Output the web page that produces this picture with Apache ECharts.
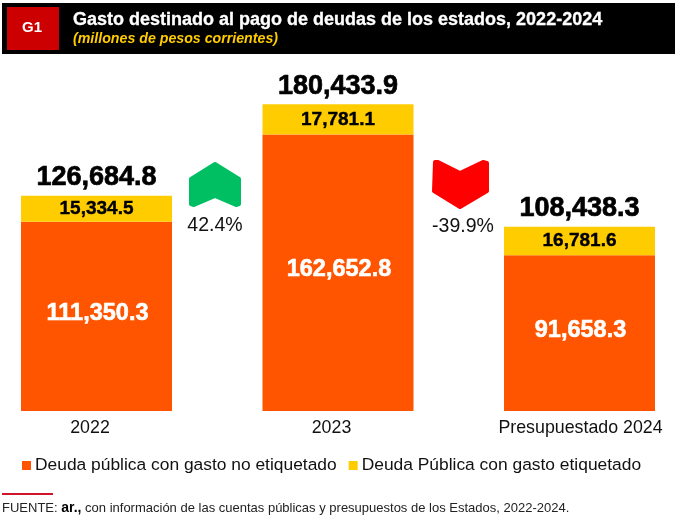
<!DOCTYPE html>
<html><head><meta charset="utf-8">
<style>html,body{margin:0;padding:0;background:#fff}#c{width:675px;height:519px}</style>
<script src="https://cdn.jsdelivr.net/npm/echarts@6/dist/echarts.min.js"></script></head>
<body><div id="c"></div>
<script>
const categories = ['2022', '2023', 'Presupuestado 2024'];
const noEtiquetado = [111350.3, 162652.8, 91658.3];
const etiquetado = [15334.5, 17781.1, 16781.6];
const totals = [126684.8, 180433.9, 108438.3];
const seriesNames = ['Deuda pública con gasto no etiquetado', 'Deuda Pública con gasto etiquetado'];
const titleText = 'Gasto destinado al pago de deudas de los estados, 2022-2024';
const subtitleText = '(millones de pesos corrientes)';
const changes = ['42.4%', '-39.9%'];
const fmt = v => v.toLocaleString('en-US', {minimumFractionDigits: 1, maximumFractionDigits: 1});
const F = '"Liberation Sans", Arial, sans-serif';
const axisText = {fontFamily: F, fontSize: 17.8, color: '#111'};
const chart = echarts.init(document.getElementById('c'), null, {renderer: 'canvas'});
chart.setOption({
  animation: false,
  backgroundColor: '#fff',
  grid: {left: 96.5, width: 483, top: 71, height: 340, containLabel: false},
  legend: {
    left: 17, top: 452, itemWidth: 9, itemHeight: 9, itemGap: 12,
    icon: 'rect', data: seriesNames, selectedMode: false,
    textStyle: {fontFamily: F, fontSize: 17.4, color: '#111', padding: [1, 0, 0, -1]}
  },
  xAxis: {
    type: 'category', data: categories, boundaryGap: false,
    axisLine: {show: false}, axisTick: {show: false},
    axisLabel: {...axisText, margin: 8, interval: 0,
      formatter: (v, i) => '{' + ['a', 'a', 'b'][i] + '|' + v + '}',
      rich: {a: {...axisText, padding: [0, 13, 0, 0]}, b: {...axisText, padding: [0, 0, 0, 2]}}}
  },
  yAxis: {type: 'value', min: 0, max: 200000, show: false, splitLine: {show: false}},
  series: [
    {name: seriesNames[0], type: 'bar', stack: 'a', barWidth: 151, data: noEtiquetado,
     itemStyle: {color: '#FF5500'},
     label: {show: true, position: 'inside', offset: [1, -3], formatter: p => fmt(p.value), color: '#fff',
       fontFamily: F, fontWeight: 'bold', fontSize: 23.5, textBorderColor: '#fff', textBorderWidth: 0.6}},
    {name: seriesNames[1], type: 'bar', stack: 'a', barWidth: 151, data: etiquetado,
     itemStyle: {color: '#FFCC00'},
     label: {show: true, position: 'inside', formatter: p => fmt(p.value), color: '#000',
       fontFamily: F, fontWeight: 'bold', fontSize: 19, textBorderColor: '#000', textBorderWidth: 0.4}},
    {name: 'Total', type: 'line', data: totals, symbol: 'circle', symbolSize: 1,
     lineStyle: {color: 'transparent', width: 0}, itemStyle: {color: 'transparent'},
     label: {show: true, position: 'top', distance: 4, formatter: p => fmt(p.value), color: '#000',
       fontFamily: F, fontWeight: 'bold', fontSize: 27, textBorderColor: '#000', textBorderWidth: 0.7}}
  ],
  graphic: [
    {type: 'rect', shape: {x: 2, y: 3, width: 673, height: 51}, style: {fill: '#000'}},
    {type: 'rect', shape: {x: 7, y: 7, width: 52, height: 43}, style: {fill: '#CC0000'}},
    {type: 'text', x: 32, y: 28, style: {text: 'G1', fill: '#fff', font: 'bold 15px ' + F, align: 'center', verticalAlign: 'middle'}},
    {type: 'text', x: 73, y: 20, style: {text: titleText, fill: '#fff', font: 'bold 18px ' + F, verticalAlign: 'middle', stroke: '#fff', lineWidth: 0.3}},
    {type: 'text', x: 73, y: 39, style: {text: subtitleText, fill: '#FFCC00', font: 'italic bold 14.2px ' + F, verticalAlign: 'middle'}},
    {type: 'polygon', shape: {points: [[215, 164], [239, 179], [239, 204], [236, 205], [215, 196], [194, 205], [191, 204], [191, 179]]},
     style: {fill: '#00BF63', stroke: '#00BF63', lineWidth: 4, lineJoin: 'round'}},
    {type: 'polygon', shape: {points: [[435, 162], [438, 162], [460, 173], [483, 162], [487, 163], [487, 191], [460, 207], [434, 191]]},
     style: {fill: '#FF0000', stroke: '#FF0000', lineWidth: 4, lineJoin: 'round'}},
    {type: 'text', x: 215, y: 226, style: {text: changes[0], fill: '#111', font: '19.5px ' + F, align: 'center', verticalAlign: 'middle'}},
    {type: 'text', x: 463, y: 227, style: {text: changes[1], fill: '#111', font: '19.5px ' + F, align: 'center', verticalAlign: 'middle'}},
    {type: 'rect', shape: {x: 2, y: 493, width: 51, height: 2}, style: {fill: '#D0142C'}},
    {type: 'text', x: 2, y: 508, style: {
      text: '{a|FUENTE: }{b|ar.,}{a| con información de las cuentas públicas y presupuestos de los Estados, 2022-2024.}',
      verticalAlign: 'middle',
      rich: {a: {font: '13px ' + F, fill: '#222'}, b: {font: 'bold 14px ' + F, fill: '#000'}}
    }}
  ]
});
</script></body></html>
